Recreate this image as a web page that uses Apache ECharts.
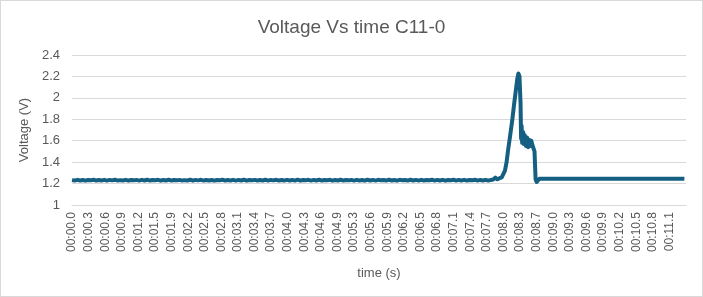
<!DOCTYPE html>
<html>
<head>
<meta charset="utf-8">
<title>Voltage Vs time C11-0</title>
<script src="https://cdn.jsdelivr.net/npm/echarts@6/dist/echarts.min.js"></script>
<style>
  html, body { margin: 0; padding: 0; background: #fff; }
  #chart { width: 703px; height: 297px; box-sizing: border-box; border: 1px solid #d9d9d9; }
</style>
</head>
<body>
<div id="chart"></div>
<script>
// tick labels of the time axis (one every labelStep seconds)
const labelStep = 0.309
const tickLabels = [
  '00:00.0', '00:00.3', '00:00.6', '00:00.9', '00:01.2', '00:01.5', '00:01.9', '00:02.2',
  '00:02.5', '00:02.8', '00:03.1', '00:03.4', '00:03.7', '00:04.0', '00:04.3', '00:04.6',
  '00:04.9', '00:05.3', '00:05.6', '00:05.9', '00:06.2', '00:06.5', '00:06.8', '00:07.1',
  '00:07.4', '00:07.7', '00:08.0', '00:08.3', '00:08.7', '00:09.0', '00:09.3', '00:09.6',
  '00:09.9', '00:10.2', '00:10.5', '00:10.8', '00:11.1'
]

// noisy baseline before the pulse, sampled every 0.05 s from 0 s
const baseStep = 0.05
const leftBase = [
  1.232, 1.228, 1.235, 1.229, 1.234, 1.227, 1.233, 1.230, 1.236, 1.228,
  1.233, 1.229, 1.235, 1.228, 1.234, 1.230, 1.236, 1.228, 1.232, 1.229,
  1.235, 1.227, 1.233, 1.230, 1.234, 1.228, 1.235, 1.229, 1.236, 1.228,
  1.233, 1.230, 1.235, 1.227, 1.234, 1.229, 1.236, 1.228, 1.233, 1.230,
  1.234, 1.228, 1.232, 1.229, 1.236, 1.227, 1.234, 1.230, 1.235, 1.228,
  1.233, 1.229, 1.234, 1.227, 1.233, 1.230, 1.236, 1.228, 1.233, 1.229,
  1.235, 1.228, 1.234, 1.229, 1.236, 1.227, 1.233, 1.230, 1.234, 1.228,
  1.233, 1.229, 1.236, 1.228, 1.234, 1.230, 1.235, 1.229, 1.233, 1.228,
  1.235, 1.229, 1.234, 1.228, 1.236, 1.227, 1.233, 1.230, 1.235, 1.228,
  1.234, 1.229, 1.236, 1.228, 1.233, 1.230, 1.235, 1.227, 1.234, 1.229,
  1.236, 1.228, 1.233, 1.230, 1.234, 1.228, 1.235, 1.229, 1.233, 1.227,
  1.236, 1.229, 1.234, 1.228, 1.235, 1.230, 1.233, 1.228, 1.236, 1.229,
  1.234, 1.227, 1.235, 1.230, 1.233, 1.228, 1.236, 1.229, 1.234, 1.228,
  1.235, 1.229, 1.233, 1.230, 1.236, 1.228, 1.234, 1.229, 1.235, 1.227,
  1.233, 1.230, 1.236, 1.228, 1.234, 1.229, 1.235, 1.228, 1.233, 1.230,
  1.236, 1.228, 1.234, 1.229, 1.235, 1.228, 1.234
]

// the pulse, [time s, voltage V]
const pulse = [
  [7.84, 1.238], [7.88, 1.255], [7.92, 1.240], [7.96, 1.250], [8.00, 1.258],
  [8.03, 1.275], [8.06, 1.320], [8.09, 1.400], [8.12, 1.520], [8.16, 1.660],
  [8.20, 1.810], [8.23, 1.940], [8.26, 2.060], [8.29, 2.180], [8.31, 2.228],
  [8.33, 2.200], [8.35, 1.950], [8.36, 1.620], [8.37, 1.740], [8.38, 1.580],
  [8.40, 1.680], [8.41, 1.570], [8.43, 1.650], [8.45, 1.550], [8.47, 1.630],
  [8.49, 1.540], [8.51, 1.610], [8.53, 1.550], [8.55, 1.600], [8.57, 1.560],
  [8.59, 1.570], [8.61, 1.500], [8.63, 1.240], [8.65, 1.215], [8.67, 1.228],
  [8.70, 1.246]
]

// flat baseline after the pulse, sampled every 0.1 s from 8.8 s
const rightStart = 8.8
const rightBase = [
  1.245, 1.244, 1.246, 1.245, 1.244, 1.246, 1.245, 1.245, 1.244, 1.246,
  1.245, 1.244, 1.245, 1.246, 1.245, 1.244, 1.245, 1.246, 1.245, 1.244,
  1.245, 1.246, 1.245, 1.244, 1.245, 1.246, 1.245
]

const points = []
leftBase.forEach((v, i) => points.push([+(i * baseStep).toFixed(3), v]))
pulse.forEach(p => points.push(p))
rightBase.forEach((v, i) => points.push([+(rightStart + i * 0.1).toFixed(3), v]))

const textColor = '#595959'
const gridColor = '#d9d9d9'

const chart = echarts.init(document.getElementById('chart'))
chart.setOption({
  animation: false,
  title: {
    text: 'Voltage Vs time C11-0',
    left: 'center',
    top: 12,
    textStyle: { color: textColor, fontSize: 19, fontWeight: 'normal', fontFamily: 'Liberation Sans Narrow, Liberation Sans, sans-serif' }
  },
  grid: { left: 71, right: 16, top: 54, bottom: 91 },
  xAxis: {
    type: 'value',
    min: 0,
    max: 11.43,
    interval: labelStep,
    name: 'time (s)',
    nameLocation: 'middle',
    nameGap: 62,
    nameTextStyle: { color: textColor, fontSize: 13, fontFamily: 'Liberation Sans, sans-serif' },
    axisLine: { show: true, lineStyle: { color: gridColor } },
    axisTick: { show: false },
    splitLine: { show: false },
    axisLabel: {
      rotate: 90,
      margin: 7,
      color: textColor,
      fontSize: 12,
      fontFamily: 'Liberation Sans, sans-serif',
      showMaxLabel: false,
      formatter: v => tickLabels[Math.round(v / labelStep)] || ''
    }
  },
  yAxis: {
    type: 'value',
    min: 1,
    max: 2.4,
    interval: 0.2,
    name: 'Voltage (V)',
    nameLocation: 'middle',
    nameGap: 37,
    nameTextStyle: { color: textColor, fontSize: 13, fontFamily: 'Liberation Sans, sans-serif' },
    axisLine: { show: false },
    axisTick: { show: false },
    splitLine: { lineStyle: { color: gridColor } },
    axisLabel: {
      color: textColor,
      fontSize: 13,
      margin: 12,
      fontFamily: 'Liberation Sans, sans-serif',
      formatter: v => String(+v.toFixed(1))
    }
  },
  series: [{
    type: 'line',
    data: points,
    showSymbol: false,
    lineStyle: { color: '#156082', width: 4, join: 'round' }
  }]
})
</script>
</body>
</html>
